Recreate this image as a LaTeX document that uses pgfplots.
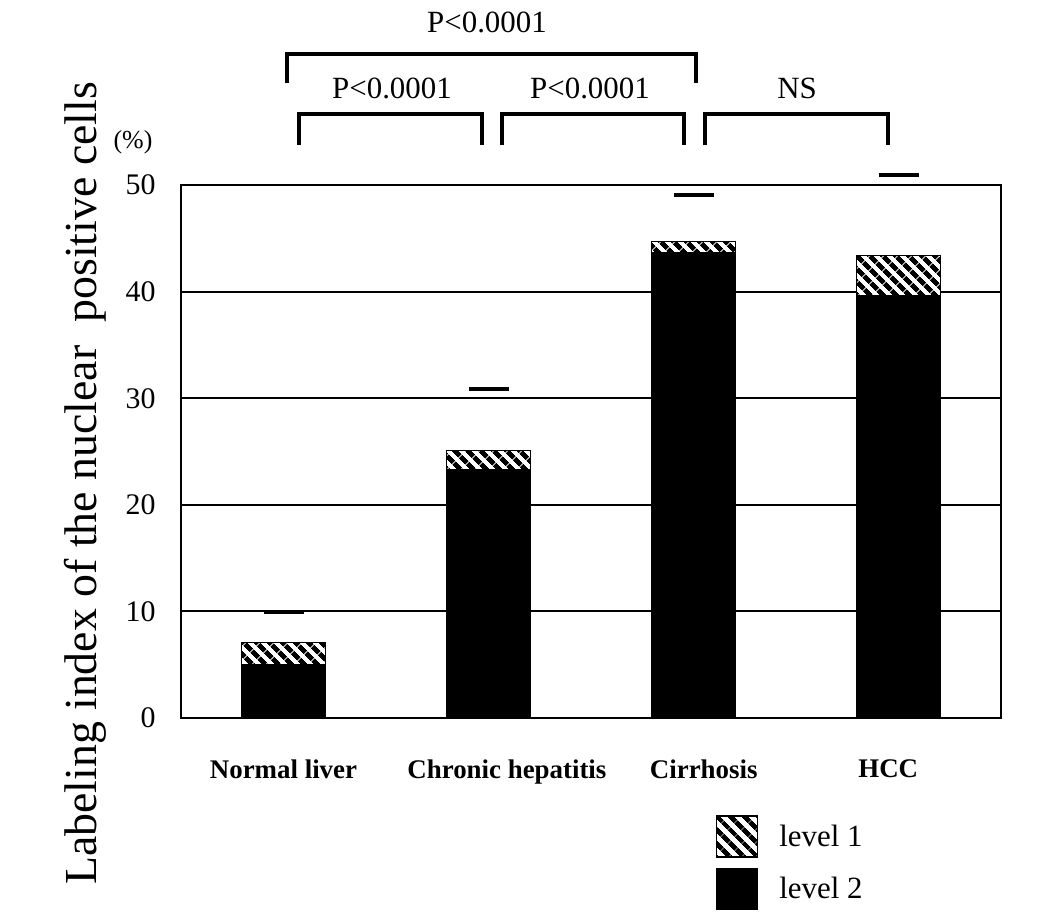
\documentclass[border=0pt]{standalone}
\usepackage{fontspec}
\setmainfont{Liberation Serif}
\usepackage{pgfplots}
\pgfplotsset{compat=1.18}
\usetikzlibrary{patterns.meta}

% legend boxes: 41bp squares
\pgfplotsset{
  boxlegend/.style={legend image code/.code={
    \draw[##1, line width=1.5bp] (0bp,-20.5bp) rectangle (41bp,20.5bp);}},
}

\begin{document}
\begin{tikzpicture}
\path[use as bounding box] (0,0) rectangle (1063bp,-920bp);
\begin{axis}[
  at={(181bp,-718bp)}, anchor=south west,
  scale only axis, width=820bp, height=533bp,
  xmin=-0.5, xmax=3.5, ymin=0, ymax=50,
  axis line style={line width=2bp},
  ytick={0,10,...,50},
  xtick={0,1.09,2.05,2.95},
  xticklabels={Normal liver, Chronic hepatitis, Cirrhosis, HCC},
  major tick length=0pt,
  ymajorgrids, grid style={black, line width=2bp},
  /pgf/number format/assume math mode=true,
  yticklabel style={font=\fontsize{30}{32}\selectfont, xshift=-22bp},
  xticklabel style={font=\fontsize{27}{30}\selectfont\bfseries, yshift=-38bp},
  ylabel={Labeling index of the nuclear\ \ positive cells},
  ylabel style={font=\fontsize{46}{50}\selectfont, at={(rel axis cs:-0.117,0.44)}, anchor=center},
  clip=false,
  legend style={at={(rel axis cs:0.652,-0.182)}, anchor=north west, draw=none, fill=none,
    font=\fontsize{31}{33}\selectfont, row sep=10bp, inner sep=0pt,
    cells={anchor=west}, nodes={inner sep=0pt},
    /tikz/every odd column/.append style={column sep=21bp}},
]
% level 1 (hatched) drawn at full stacked height, level 2 (black) over it
\addplot[ybar, bar width=84bp, bar shift=0pt, draw=black, line width=1.5bp, fill=white,
  postaction={pattern={Lines[angle=-45,distance=9.5bp,line width=5bp]}}, boxlegend]
  coordinates {(0,7.1) (1,25.1) (2,44.7) (3,43.4)};
\addlegendentry{level 1}
\addplot[ybar, bar width=84bp, bar shift=0pt, draw=black, line width=1.5bp, fill=black, boxlegend]
  coordinates {(0,5.0) (1,23.3) (2,43.6) (3,39.6)};
\addlegendentry{level 2}
% SD marks
\addplot[only marks, mark=-, mark size=20bp, mark options={line width=4bp}, forget plot]
  coordinates {(0,9.9) (1,30.9) (2,49.1) (3,50.9)};
\end{axis}

% significance brackets
\begin{scope}[line width=3.5bp, font=\fontsize{31}{33}\selectfont]
  \draw (287bp,-83bp) -- (287bp,-54bp) -- (696bp,-54bp) -- (696bp,-83bp);
  \node at (487bp,-22bp) {P<0.0001};
  \draw (299bp,-145bp) -- (299bp,-114bp) -- (482bp,-114bp) -- (482bp,-145bp);
  \node at (392bp,-88bp) {P<0.0001};
  \draw (502bp,-145bp) -- (502bp,-114bp) -- (684bp,-114bp) -- (684bp,-145bp);
  \node at (590bp,-88bp) {P<0.0001};
  \draw (705bp,-145bp) -- (705bp,-114bp) -- (888bp,-114bp) -- (888bp,-145bp);
  \node at (797bp,-88bp) {NS};
\end{scope}
\node[font=\fontsize{26}{28}\selectfont] at (133bp,-142bp) {(\%)};
\end{tikzpicture}
\end{document}
